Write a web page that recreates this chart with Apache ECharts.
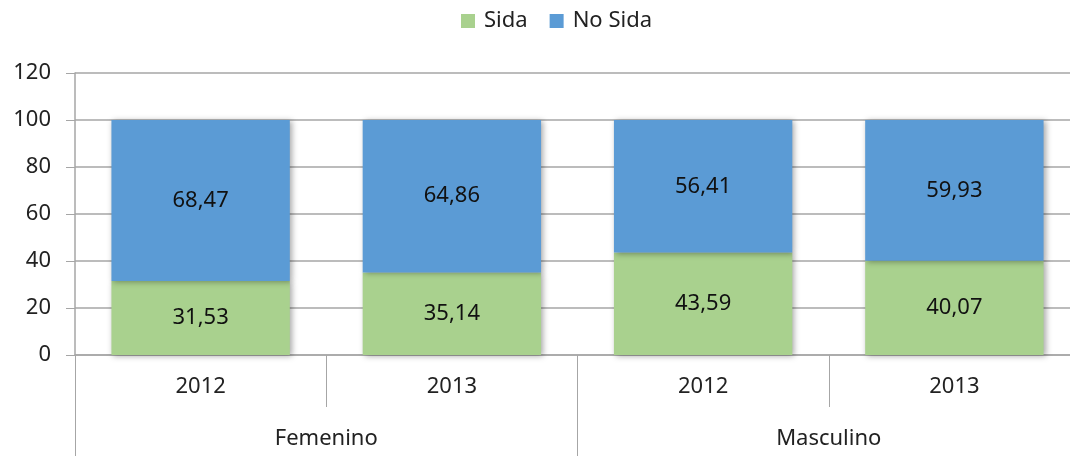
<!DOCTYPE html>
<html>
<head>
<meta charset="utf-8">
<script src="https://cdn.jsdelivr.net/npm/echarts@6/dist/echarts.min.js"></script>
<style>html,body{margin:0;padding:0;background:#fff;}#c{width:1070px;height:456px;}</style>
</head>
<body>
<div id="c"></div>
<script>
const years = ["2012", "2013", "2012", "2013"];
const groups = ["Femenino", "Masculino"];
const sida = [31.53, 35.14, 43.59, 40.07];
const noSida = [68.47, 64.86, 56.41, 59.93];
const yTicks = [0, 20, 40, 60, 80, 100, 120];

const FONT = "Noto Sans";
const FS = 22;
const fmt = p => p.value.toFixed(2).replace('.', ',');
const chart = echarts.init(document.getElementById('c'));
chart.setOption({
  animation: false,
  textStyle: { fontFamily: FONT },
  legend: {
    top: 5, left: 456,
    itemWidth: 14, itemHeight: 14, itemGap: 22,
    icon: 'rect',
    textStyle: { fontFamily: FONT, fontSize: FS, color: '#222', padding: [0, 0, 0, 4] },
    data: ['Sida', 'No Sida']
  },
  grid: { left: 75, top: 73, width: 1005, height: 282, containLabel: false, outerBoundsMode: 'none' },
  xAxis: [
    {
      type: 'category', data: years, position: 'bottom',
      axisLine: { lineStyle: { color: '#a6a6a6', width: 1.5 } },
      axisTick: { show: true, interval: 0, length: 52, lineStyle: { color: '#a6a6a6' } },
      axisLabel: { interval: 0, margin: 21, fontFamily: FONT, fontSize: FS, color: '#222' }
    },
    {
      type: 'category', data: groups, position: 'bottom', gridIndex: 0,
      axisLine: { show: false },
      axisTick: { show: true, interval: 0, length: 101, lineStyle: { color: '#a6a6a6' } },
      axisLabel: { interval: 0, margin: 73, fontFamily: FONT, fontSize: FS, color: '#222' }
    }
  ],
  yAxis: {
    type: 'value', min: yTicks[0], max: yTicks[yTicks.length - 1], interval: 20,
    axisLine: { show: true, lineStyle: { color: '#a6a6a6', width: 1.5 } },
    axisTick: { show: true, length: 9, lineStyle: { color: '#a6a6a6' } },
    axisLabel: { margin: 24, fontFamily: FONT, fontSize: FS, color: '#222' },
    splitLine: { lineStyle: { color: '#a6a6a6', width: 1.5 } }
  },
  series: [
    {
      name: 'Sida', type: 'bar', stack: 'a', data: sida, barWidth: '71%',
      itemStyle: { color: '#A9D18E', shadowBlur: 6, shadowColor: 'rgba(0,0,0,0.35)', shadowOffsetX: 2, shadowOffsetY: 1 },
      label: { show: true, position: 'inside', formatter: fmt, fontFamily: FONT, fontSize: FS, color: '#111' }
    },
    {
      name: 'No Sida', type: 'bar', stack: 'a', data: noSida, barWidth: '71%',
      itemStyle: { color: '#5B9BD5', shadowBlur: 6, shadowColor: 'rgba(0,0,0,0.35)', shadowOffsetX: 2, shadowOffsetY: 1 },
      label: { show: true, position: 'inside', formatter: fmt, fontFamily: FONT, fontSize: FS, color: '#111' }
    }
  ]
});
</script>
</body>
</html>
